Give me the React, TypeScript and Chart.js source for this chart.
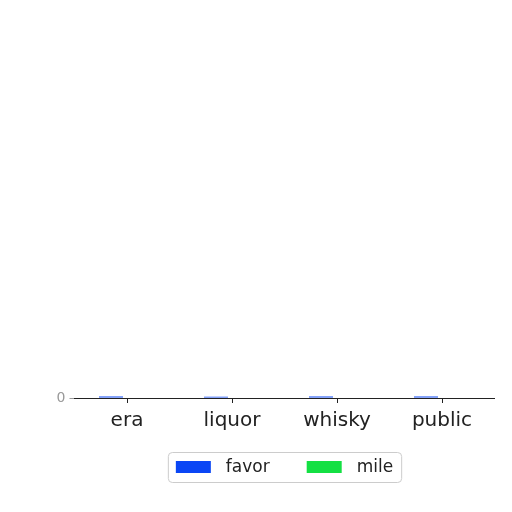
import React, { useEffect, useRef } from "react";
import Chart, { ChartConfiguration, Plugin } from "chart.js/auto";

const categories = ["era", "liquor", "whisky", "public"];
const favorValues = [3, 2.5, 3, 3];
const mileValues = [0, 0, 0, 0];
const yTicks = [0];

const FONT = "'DejaVu Sans', sans-serif";

// matplotlib-like framed legend under the axis
const boxLegend: Plugin = {
  id: "boxLegend",
  afterDraw(chart) {
    const { ctx, chartArea } = chart;
    const sets = chart.data.datasets;
    ctx.save();
    ctx.font = `17px ${FONT}`;
    const boxW = 35;
    const boxH = 12;
    const gap = 15;
    const itemGap = 37;
    const pad = 8;
    const widths = sets.map((d) => ctx.measureText(String(d.label)).width);
    let total = pad * 2;
    widths.forEach((w, i) => {
      total += boxW + gap + w + (i > 0 ? itemGap : 0);
    });
    const cx = (chartArea.left + chartArea.right) / 2;
    const left = cx - total / 2;
    const top = chartArea.bottom + 54;
    const h = 30;
    ctx.fillStyle = "rgba(255,255,255,0.85)";
    ctx.strokeStyle = "#cccccc";
    ctx.lineWidth = 1;
    ctx.beginPath();
    ctx.roundRect(left + 0.5, top + 0.5, total, h, 4);
    ctx.fill();
    ctx.stroke();
    let x = left + pad;
    const cy = top + h / 2;
    sets.forEach((d, i) => {
      ctx.fillStyle = String(d.backgroundColor);
      ctx.fillRect(x, cy - boxH / 2, boxW, boxH);
      x += boxW + gap;
      ctx.fillStyle = "#222222";
      ctx.textBaseline = "middle";
      ctx.fillText(String(d.label), x, cy + 1);
      x += widths[i] + itemGap;
    });
    ctx.restore();
  },
};

function App() {
  const canvasRef = useRef<HTMLCanvasElement | null>(null);

  useEffect(() => {
    const canvas = canvasRef.current;
    if (!canvas) return;
    const config: ChartConfiguration = {
      type: "bar",
      data: {
        labels: categories,
        datasets: [
          { label: "favor", data: favorValues, backgroundColor: "#0a46f5" },
          { label: "mile", data: mileValues, backgroundColor: "#14e043" },
        ],
      },
      options: {
        responsive: false,
        animation: false,
        devicePixelRatio: 1,
        layout: { padding: { top: 393, right: 17.5, left: 0, bottom: 0 } },
        datasets: {
          bar: { categoryPercentage: 0.61, barPercentage: 0.75 },
        },
        plugins: {
          legend: { display: false },
          tooltip: { enabled: false },
        },
        scales: {
          x: {
            afterFit: (scale: any) => {
              scale.height = 114;
            },
            grid: {
              offset: false,
              drawOnChartArea: false,
              drawTicks: true,
              tickLength: 5,
              color: "#222222",
            },
            border: { display: true, color: "#222222", width: 1 },
            ticks: {
              color: "#222222",
              font: { family: FONT, size: 20 },
              padding: 6,
              maxRotation: 0,
            },
          },
          y: {
            min: 0,
            max: 10,
            afterFit: (scale: any) => {
              scale.width = 74.5;
            },
            afterBuildTicks: (scale: any) => {
              scale.ticks = yTicks.map((v) => ({ value: v }));
            },
            grid: {
              drawOnChartArea: false,
              drawTicks: true,
              tickLength: 5,
              color: "#999999",
            },
            border: { display: false },
            ticks: {
              color: "#999999",
              font: { family: FONT, size: 14 },
              padding: 4,
            },
          },
        },
      },
      plugins: [boxLegend],
    };
    const chart = new Chart(canvas, config);
    return () => {
      chart.destroy();
    };
  }, []);

  return (
    <div style={{ position: "fixed", left: 0, top: 0, width: 512, height: 512, background: "#fff" }}>
      <canvas ref={canvasRef} width={512} height={512} style={{ width: 512, height: 512 }} />
    </div>
  );
}

export default App;
